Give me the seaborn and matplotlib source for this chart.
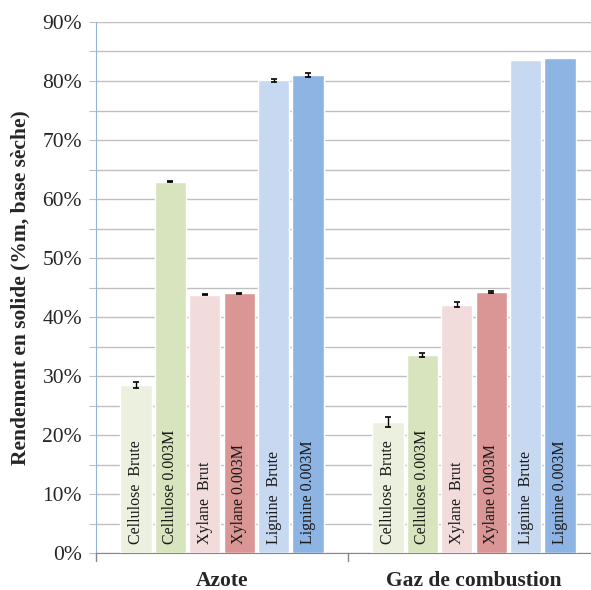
import pandas as pd
import seaborn as sns
import numpy as np
import matplotlib.pyplot as plt
from matplotlib.ticker import MultipleLocator, FuncFormatter

groups = ['Azote', 'Gaz de combustion']
samples = ['Cellulose  Brute', 'Cellulose 0.003M', 'Xylane  Brut',
           'Xylane 0.003M', 'Lignine  Brute', 'Lignine 0.003M']
azote = [28.4, 62.9, 43.8, 44.0, 80.1, 81.0]
gaz = [22.2, 33.5, 42.1, 44.2, 83.5, 83.9]
err_azote = [0.5, 0.1, 0.15, 0.15, 0.25, 0.3]
err_gaz = [0.9, 0.35, 0.45, 0.15, 0.0, 0.0]
colors = ['#EBF1DE', '#D7E4BD', '#F2DCDB', '#D99694', '#C6D9F1', '#8EB4E3']

df = pd.DataFrame({
    'group': np.repeat(groups, len(samples)),
    'sample': samples * 2,
    'value': azote + gaz,
    'err': err_azote + err_gaz,
})

sns.set_style('white')
plt.rcParams['font.family'] = ['Liberation Serif', 'DejaVu Serif']

fig = plt.figure(figsize=(5.91, 5.90), dpi=100)
ax = fig.add_axes([96 / 591, 37 / 590, 504 / 591, 531 / 590])

sns.barplot(data=df, x='group', y='value', hue='sample', hue_order=samples,
            palette=colors, width=0.82, gap=0.09, saturation=1,
            legend=False, ax=ax, zorder=3)

# bars come out hue by hue, group by group
for i, bar in enumerate(ax.patches[:len(df)]):
    s = i // len(groups)
    g = i % len(groups)
    row = df[(df['group'] == groups[g]) & (df['sample'] == samples[s])].iloc[0]
    xc = bar.get_x() + bar.get_width() / 2
    if row['err'] > 0:
        ax.errorbar(xc, row['value'], yerr=row['err'], fmt='none',
                    ecolor='black', elinewidth=1, capsize=2.5, capthick=1.2,
                    zorder=4)
    ax.text(xc, 1.6, samples[s], rotation=90, ha='center', va='bottom',
            fontsize=11.5, color='#1a1a1a', zorder=5)

ax.set_xlim(-0.5, 1.5)
ax.set_ylim(0, 90)
ax.yaxis.set_major_locator(MultipleLocator(5))
ax.yaxis.set_major_formatter(
    FuncFormatter(lambda v, p: f'{int(round(v))}%' if round(v) % 10 == 0 else ''))
ax.grid(axis='y', color='#BFBFBF', linewidth=1.0, zorder=0)
ax.set_axisbelow(True)

ax.set_xlabel('')
ax.set_ylabel('Rendement en solide (%m, base sèche)', fontsize=15.5,
              fontweight='bold')
ax.yaxis.set_label_coords(-0.13, 0.5)
ax.set_xticks([0, 1])
ax.set_xticklabels(groups, fontsize=15.5, fontweight='bold')
ax.tick_params(axis='x', length=0, pad=13)
ax.tick_params(axis='y', left=True, length=5, color='#BFBFBF',
               labelsize=15.5, pad=5)

# category separators on the bottom axis
for xb in [-0.5, 0.5, 1.5]:
    ax.plot([xb, xb], [0, -1.4], color='#868686', lw=1, clip_on=False)

for side in ['top', 'right']:
    ax.spines[side].set_visible(False)
ax.spines['left'].set_color('#95B3D7')
ax.spines['bottom'].set_color('#868686')

plt.savefig('out.png', dpi=100)
